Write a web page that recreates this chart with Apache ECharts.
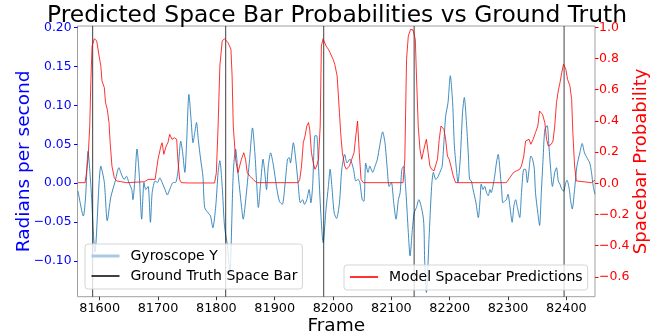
<!DOCTYPE html>
<html>
<head>
<meta charset="utf-8">
<script src="https://cdn.jsdelivr.net/npm/echarts@6/dist/echarts.min.js"></script>
<style>
html,body{margin:0;padding:0;background:#fff;}
#chart{width:659px;height:336px;}
</style>
</head>
<body>
<div id="chart"></div>
<script>
// ---- data ----
const frameTicks = [81600, 81700, 81800, 81900, 82000, 82100, 82200, 82300, 82400];
const gyroTicks = [-0.10, -0.05, 0.00, 0.05, 0.10, 0.15, 0.20];
const probTicks = [-0.6, -0.4, -0.2, 0.0, 0.2, 0.4, 0.6, 0.8, 1.0];

const frameRange = [81562, 82449];
const gyroRange = [-0.1454, 0.2017];
const probRange = [-0.727, 1.0083];

const groundTruthFrames = [81588, 81816, 81984, 82139, 82396];

const gyroFrames = [
81563,81572,81576,81580,81585,81592,81602,81608,81613,81619,81626,81633,81637,81642,81646,81650,81655,81657,81660,81664,
81668,81672,81676,81679,81683,81687,81690,81695,81699,81703,81707,81712,81716,81720,81726,81730,81734,81739,81742,81746,
81749,81753,81757,81760,81763,81766,81769,81773,81777,81780,81786,81790,81794,81799,81803,81806,81810,81814,81819,81823,
81829,81833,81837,81843,81846,81851,81857,81862,81866,81869,81872,81876,81880,81883,81886,81889,81893,81898,81903,81908,
81913,81918,81922,81925,81927,81932,81936,81940,81944,81948,81951,81955,81959,81962,81965,81969,81972,81975,81979,81983,
81988,81992,81995,81998,82002,82006,82011,82015,82020,82024,82029,82035,82039,82043,82046,82050,82053,82056,82060,82063,
82068,82072,82076,82080,82085,82089,82093,82096,82100,82104,82108,82112,82115,82118,82121,82125,82129,82132,82136,82139,
82143,82147,82155,82157,82160,82165,82169,82172,82176,82179,82183,82187,82190,82193,82197,82201,82205,82208,82212,82214,
82218,82222,82225,82229,82232,82234,82237,82240,82245,82249,82252,82254,82257,82260,82263,82266,82269,82271,82274,82277,
82280,82283,82286,82289,82291,82294,82297,82300,82303,82307,82310,82313,82316,82320,82323,82327,82330,82333,82336,82339,
82342,82345,82347,82351,82354,82357,82360,82363,82367,82370,82373,82376,82380,82383,82386,82389,82391,82395,82399,82401,
82405,82407,82410,82414,82418,82423,82427,82431,82435,82440,82443,82446,82449
];
const gyroValues = [
-0.010,-0.042,-0.016,0.041,-0.004,-0.088,0.022,0.001,-0.048,-0.018,0.001,0.020,0.012,0.005,0.009,0.001,-0.008,-0.021,0.001,0.044,
0.009,-0.046,0.001,-0.008,-0.004,-0.050,-0.012,0.003,0.001,0.007,0.001,-0.008,-0.015,-0.008,0.001,0.001,0.014,0.054,0.041,0.014,
0.052,0.114,0.078,0.052,0.065,0.078,0.056,0.031,0.009,-0.031,-0.038,-0.042,-0.057,-0.029,0.014,0.029,-0.004,-0.055,-0.080,-0.115,
0.014,0.044,0.014,-0.029,-0.046,-0.016,0.031,0.071,0.039,0.001,-0.031,0.001,0.031,0.014,-0.008,0.022,0.039,0.022,-0.004,-0.023,
-0.027,0.001,0.031,0.033,0.026,0.052,0.031,0.001,-0.025,-0.021,-0.027,-0.021,-0.008,-0.025,-0.004,0.061,0.061,0.022,-0.038,-0.076,
-0.033,-0.004,0.018,-0.004,-0.038,-0.045,-0.025,0.018,0.037,0.026,0.031,0.018,0.003,0.005,0.001,-0.021,-0.023,0.026,0.014,0.022,
0.014,0.022,0.031,0.048,0.066,0.052,0.018,-0.004,0.001,-0.025,-0.046,-0.021,-0.012,0.018,0.022,-0.012,-0.063,-0.093,-0.059,-0.038,
-0.031,-0.021,-0.046,-0.098,-0.140,-0.063,-0.004,0.014,0.005,0.007,0.014,0.022,0.052,0.086,0.103,0.138,0.103,0.048,0.014,0.001,
0.031,0.091,0.110,0.074,0.035,0.005,0.003,-0.008,-0.025,-0.044,-0.021,-0.001,-0.008,-0.004,-0.012,-0.016,-0.008,-0.012,-0.004,0.009,
0.026,0.037,0.018,-0.008,-0.025,-0.023,-0.021,-0.014,-0.029,-0.050,-0.029,-0.021,-0.031,-0.044,-0.012,0.018,0.018,0.001,0.018,0.035,
0.031,0.018,-0.012,-0.038,-0.054,-0.012,0.031,0.069,0.074,0.048,0.018,-0.004,0.014,0.020,0.003,-0.001,-0.006,-0.010,0.001,0.004,
-0.008,-0.021,-0.033,-0.008,0.022,0.039,0.051,0.039,0.033,0.026,0.014,-0.004,-0.014
];

const predFrames = [
81563,81575,81577,81580,81583,81585,81587,81591,81595,81599,81602,81604,81608,81610,81613,81616,81618,81621,81625,81629,
81637,81646,81677,81683,81695,81700,81705,81707,81710,81714,81717,81720,81724,81728,81732,81734,81737,81740,81752,81797,
81800,81803,81806,81810,81814,81820,81825,81827,81829,81833,81837,81840,81843,81847,81850,81853,81857,81863,81869,81940,
81943,81946,81949,81952,81955,81958,81960,81963,81966,81969,81972,81975,81978,81980,81983,81988,81992,81995,82000,82003,
82007,82011,82013,82016,82020,82023,82028,82032,82036,82039,82042,82045,82048,82052,82120,82123,82126,82129,82133,82137,
82141,82143,82146,82149,82152,82157,82160,82163,82166,82169,82173,82176,82179,82182,82185,82187,82190,82193,82196,82199,
82202,82206,82210,82297,82303,82309,82314,82320,82323,82327,82330,82333,82336,82339,82343,82347,82351,82354,82359,82363,
82366,82369,82371,82374,82377,82380,82383,82386,82389,82392,82395,82399,82402,82406,82409,82411,82414,82417,82420,82443,
82449
];
const predValues = [
0.004,0.004,0.057,0.154,0.367,0.666,0.880,0.927,0.912,0.816,0.752,0.656,0.613,0.517,0.474,0.389,0.260,0.111,0.036,0.015,
0.010,0.004,0.010,0.025,0.025,0.154,0.239,0.260,0.186,0.239,0.260,0.314,0.282,0.292,0.282,0.154,0.025,0.004,0.002,0.002,
0.068,0.367,0.752,0.912,0.927,0.901,0.859,0.688,0.367,0.154,0.068,0.111,0.154,0.196,0.154,0.068,0.047,0.025,0.004,0.004,
0.025,0.111,0.260,0.303,0.367,0.389,0.346,0.196,0.132,0.090,0.111,0.154,0.367,0.880,0.927,0.880,0.859,0.837,0.795,0.763,
0.688,0.453,0.325,0.196,0.111,0.090,0.111,0.154,0.196,0.303,0.399,0.196,0.025,0.004,0.004,0.154,0.795,0.944,0.987,0.983,
0.923,0.688,0.367,0.218,0.154,0.239,0.282,0.196,0.111,0.090,0.079,0.090,0.154,0.282,0.367,0.378,0.346,0.282,0.175,0.154,
0.111,0.047,0.004,0.004,0.036,0.068,0.079,0.090,0.111,0.175,0.271,0.260,0.282,0.250,0.282,0.325,0.367,0.463,0.442,0.389,
0.282,0.239,0.239,0.250,0.271,0.367,0.517,0.592,0.645,0.709,0.763,0.731,0.666,0.624,0.538,0.325,0.111,0.015,0.004,0.004,
0.021
];

// ---- chart ----
const FONT = 'DejaVu Sans';
const zip = (xs, ys) => xs.map((x, i) => [x, ys[i]]);
const fmt = (v, d) => (v < 0 ? '\u2212' : '') + Math.abs(v).toFixed(d);

const series = [
  {
    name: 'Gyroscope Y', type: 'line', xAxisIndex: 0, yAxisIndex: 0,
    data: zip(gyroFrames, gyroValues), symbol: 'none', showSymbol: false, smooth: 0.25,
    color: '#1f77b4', lineStyle: { color: '#1f77b4', width: 1, opacity: 0.85 }, z: 2
  }
];
groundTruthFrames.forEach(f => {
  series.push({
    name: 'Ground Truth Space Bar', type: 'line', xAxisIndex: 0, yAxisIndex: 0,
    data: [[f, gyroRange[0]], [f, gyroRange[1]]], symbol: 'none', showSymbol: false,
    color: '#000', lineStyle: { color: '#000', width: 1, opacity: 0.75 }, z: 3
  });
});
series.push({
  name: 'Model Spacebar Predictions', type: 'line', xAxisIndex: 0, yAxisIndex: 1,
  data: zip(predFrames, predValues), symbol: 'none', showSymbol: false,
  color: '#ff0000', lineStyle: { color: '#ff0000', width: 1, opacity: 0.8 }, z: 4
});

const legendCommon = {
  orient: 'vertical', itemWidth: 28, itemHeight: 14, itemGap: 6,
  backgroundColor: 'rgba(255,255,255,0.8)', borderColor: '#d5d5d5', borderWidth: 1, borderRadius: 3,
  selectedMode: false,
  itemStyle: { opacity: 0 },
  textStyle: { fontFamily: FONT, fontSize: 14, color: '#000', padding: [0, 0, 0, 6] }
};

const option = {
  animation: false,
  backgroundColor: '#fff',
  title: {
    text: 'Predicted Space Bar Probabilities vs Ground Truth',
    left: 332, textAlign: 'center', top: -1,
    textStyle: { fontFamily: FONT, fontSize: 23.4, fontWeight: 'normal', color: '#000' }
  },
  grid: {
    left: 77.5, right: 64, top: 26, bottom: 39.3,
    outerBoundsMode: 'none', containLabel: false,
    show: true, borderColor: '#a0a0a0', borderWidth: 1, backgroundColor: 'transparent'
  },
  legend: [
    Object.assign({}, legendCommon, {
      left: 85, top: 244, padding: [5, 5, 6, 5],
      data: [{ name: 'Gyroscope Y', lineStyle: { width: 3, color: '#a9c9e4', opacity: 1 } }, { name: 'Ground Truth Space Bar' }]
    }),
    Object.assign({}, legendCommon, {
      left: 344, top: 265, padding: [5, 5, 6, 5],
      data: [{ name: 'Model Spacebar Predictions' }]
    })
  ],
  xAxis: {
    type: 'value', min: frameRange[0], max: frameRange[1],
    name: 'Frame', nameLocation: 'middle', nameGap: 20, nameMoveOverlap: false,
    nameTextStyle: { fontFamily: FONT, fontSize: 18.5, color: '#000' },
    axisLine: { show: false, onZero: false },
    axisTick: { show: true, length: 3.5, lineStyle: { color: '#333' }, customValues: frameTicks },
    axisLabel: { customValues: frameTicks, fontFamily: FONT, fontSize: 12.8, color: '#000', margin: 5, formatter: v => String(v) },
    splitLine: { show: false }
  },
  yAxis: [
    {
      type: 'value', position: 'left', min: gyroRange[0], max: gyroRange[1],
      name: 'Radians per second', nameLocation: 'middle', nameGap: 44, nameRotate: 90, nameMoveOverlap: false,
      nameTextStyle: { fontFamily: FONT, fontSize: 18.5, color: '#0000ff' },
      axisLine: { show: false, onZero: false },
      axisTick: { show: true, length: 3.5, lineStyle: { color: '#0000ff' }, customValues: gyroTicks },
      axisLabel: { customValues: gyroTicks, fontFamily: FONT, fontSize: 12.3, color: '#0000ff', margin: 6, formatter: v => fmt(v, 2) },
      splitLine: { show: false }
    },
    {
      type: 'value', position: 'right', min: probRange[0], max: probRange[1],
      name: 'Spacebar Probability', nameLocation: 'middle', nameGap: 37.5, nameRotate: 90, nameMoveOverlap: false,
      nameTextStyle: { fontFamily: FONT, fontSize: 18, color: '#ff0000' },
      axisLine: { show: false, onZero: false },
      axisTick: { show: true, length: 3.5, lineStyle: { color: '#ff0000' }, customValues: probTicks },
      axisLabel: { customValues: probTicks, fontFamily: FONT, fontSize: 12.5, color: '#ff0000', margin: 4, formatter: v => fmt(v, 1) },
      splitLine: { show: false }
    }
  ],
  series: series
};

const chart = echarts.init(document.getElementById('chart'), null, { renderer: 'canvas' });
chart.setOption(option);
</script>
</body>
</html>
